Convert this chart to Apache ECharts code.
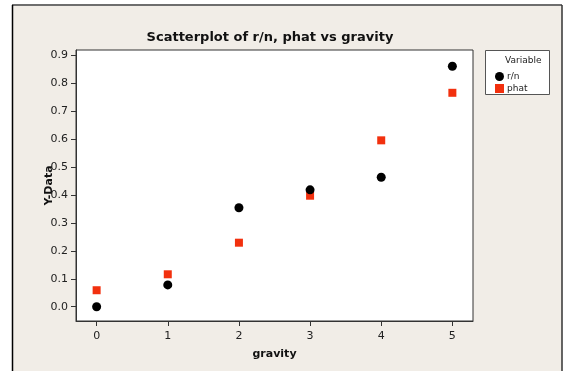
<!DOCTYPE html>
<html><head><meta charset="utf-8">
<script src="https://cdn.jsdelivr.net/npm/echarts@6/dist/echarts.min.js"></script>
<style>html,body{margin:0;padding:0;background:#fff}#c{width:566px;height:371px}</style>
</head><body><div id="c"></div>
<script>
var gravity = [0, 1, 2, 3, 4, 5];
var rn = [0.000, 0.078, 0.354, 0.418, 0.463, 0.860];
var phat = [0.059, 0.116, 0.229, 0.397, 0.595, 0.765];
var xTicks = [0, 1, 2, 3, 4, 5];
var yTicks = [0.0, 0.1, 0.2, 0.3, 0.4, 0.5, 0.6, 0.7, 0.8, 0.9];

var chart = echarts.init(document.getElementById('c'), null, {renderer: 'canvas'});
var F = 'DejaVu Sans, Verdana, sans-serif';
chart.setOption({
  animation: false,
  backgroundColor: '#fff',
  graphic: [
    {type: 'rect', z: -10, shape: {x: 12, y: 5, width: 550, height: 380}, style: {fill: '#f1ede7'}},
    {type: 'line', z: 100, shape: {x1: 12, y1: 5, x2: 562, y2: 5}, style: {stroke: '#6e6e6e', lineWidth: 2}},
    {type: 'line', z: 100, shape: {x1: 12.5, y1: 5, x2: 12.5, y2: 371}, style: {stroke: '#000', lineWidth: 1.5}},
    {type: 'line', z: 100, shape: {x1: 562, y1: 5, x2: 562, y2: 371}, style: {stroke: '#333', lineWidth: 1.5}},
    {type: 'rect', z: 1, shape: {x: 485.5, y: 50.5, width: 64, height: 44}, style: {fill: '#fff', stroke: '#555', lineWidth: 1}},
    {type: 'text', z: 5, left: 505, top: 56, style: {text: 'Variable', font: '9px ' + F, fill: '#222'}}
  ],
  title: {
    text: 'Scatterplot of r/n, phat vs gravity',
    left: 265, top: 26, textAlign: 'center',
    textStyle: {fontFamily: F, fontSize: 13, fontWeight: 'bold', color: '#111'}
  },
  legend: {
    orient: 'vertical', left: 490, top: 67, itemGap: 3, itemWidth: 9, itemHeight: 9,
    textStyle: {fontFamily: F, fontSize: 9, color: '#222', padding: [0, 0, 0, -2]},
    data: [{name: 'r/n', icon: 'circle'}, {name: 'phat', icon: 'rect'}]
  },
  grid: {left: 76, top: 50, right: 93, bottom: 50, show: true, backgroundColor: '#fff', borderColor: '#333', borderWidth: 1},
  xAxis: {
    type: 'value', min: -0.29, max: 5.29,
    name: 'gravity', nameLocation: 'middle', nameGap: 28, nameMoveOverlap: false,
    nameTextStyle: {fontFamily: F, fontSize: 11, fontWeight: 'bold', color: '#111'},
    axisLine: {show: true, onZero: false, lineStyle: {color: '#333'}},
    axisTick: {show: true, length: 5, lineStyle: {color: '#333'}, customValues: xTicks},
    axisLabel: {fontFamily: F, fontSize: 11, color: '#222', margin: 10, customValues: xTicks,
      formatter: function (v) { return String(v); }},
    splitLine: {show: false}
  },
  yAxis: {
    type: 'value', min: -0.051, max: 0.918,
    name: 'Y-Data', nameLocation: 'middle', nameGap: 21, nameRotate: 90, nameMoveOverlap: false,
    nameTextStyle: {fontFamily: F, fontSize: 11, fontWeight: 'bold', color: '#111'},
    axisLine: {show: true, onZero: false, lineStyle: {color: '#333'}},
    axisTick: {show: true, length: 5, lineStyle: {color: '#333'}, customValues: yTicks},
    axisLabel: {fontFamily: F, fontSize: 11, color: '#222', margin: 8, customValues: yTicks,
      formatter: function (v) { return v.toFixed(1); }},
    splitLine: {show: false}
  },
  series: [
    {name: 'r/n', type: 'scatter', symbol: 'circle', symbolSize: 9, itemStyle: {color: '#000', opacity: 1}, z: 3,
      data: gravity.map(function (g, i) { return [g, rn[i]]; })},
    {name: 'phat', type: 'scatter', symbol: 'rect', symbolSize: 8, itemStyle: {color: '#f2300e', opacity: 1}, z: 2,
      data: gravity.map(function (g, i) { return [g, phat[i]]; })}
  ]
});
</script></body></html>
